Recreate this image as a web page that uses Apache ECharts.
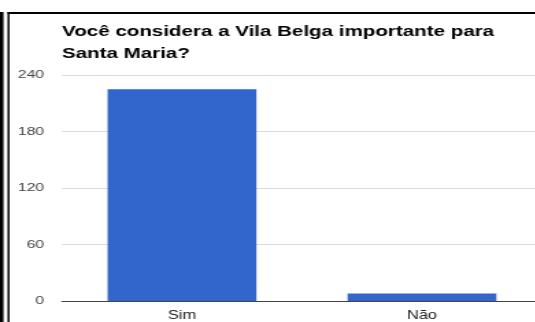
<!DOCTYPE html>
<html>
<head>
<meta charset="utf-8">
<script src="https://cdn.jsdelivr.net/npm/echarts@6/dist/echarts.min.js"></script>
<style>
html,body{margin:0;padding:0;background:#fff;overflow:hidden;width:535px;height:322px;}
/* The reference is horizontally stretched; reproduce by scaling the chart box */
#chart{width:400px;height:322px;transform:scaleX(1.37);transform-origin:0 0;}
</style>
</head>
<body>
<div id="chart"></div>
<script>
const titleText = 'Você considera a Vila Belga importante para\nSanta Maria?';
const categories = ['Sim', 'Não'];
const values = [225, 8];
const yTicks = [0, 60, 120, 180, 240];

const SX = 1.37; // horizontal stretch factor
const chart = echarts.init(document.getElementById('chart'), null, {renderer: 'canvas'});
chart.setOption({
  animation: false,
  backgroundColor: '#fff',
  title: {
    text: titleText,
    left: 62 / SX,
    top: 21,
    padding: 0,
    textStyle: {
      fontFamily: 'Liberation Sans, Arial, sans-serif',
      fontSize: 15,
      fontWeight: 'bold',
      color: '#000',
      lineHeight: 22
    }
  },
  grid: {
    left: 62 / SX,
    top: 75,
    width: 480 / SX,
    bottom: 21,
    containLabel: false
  },
  xAxis: {
    type: 'category',
    data: categories,
    axisLine: {show: true, lineStyle: {color: '#444', width: 1}},
    axisTick: {show: false},
    axisLabel: {
      color: '#222',
      fontFamily: 'Liberation Sans, Arial, sans-serif',
      fontSize: 12,
      margin: 9
    }
  },
  yAxis: {
    type: 'value',
    min: yTicks[0],
    max: yTicks[yTicks.length - 1],
    interval: 60,
    axisLine: {show: false},
    axisTick: {show: false},
    axisLabel: {
      color: '#444',
      fontFamily: 'Liberation Sans, Arial, sans-serif',
      fontSize: 11.5,
      margin: 13
    },
    splitLine: {lineStyle: {color: '#d9d9d9', width: 1}}
  },
  series: [{
    type: 'bar',
    data: values,
    barWidth: '62%',
    itemStyle: {color: '#3366cc'}
  }],
  graphic: [
    {type: 'rect', shape: {x: 0, y: 12, width: 3.5 / SX, height: 310}, style: {fill: '#000'}, z: 100},
    {type: 'rect', shape: {x: 7.5 / SX, y: 12, width: 2 / SX, height: 310}, style: {fill: '#000'}, z: 100},
    {type: 'rect', shape: {x: 7.5 / SX, y: 12, width: 400, height: 2}, style: {fill: '#000'}, z: 100}
  ]
});
</script>
</body>
</html>
